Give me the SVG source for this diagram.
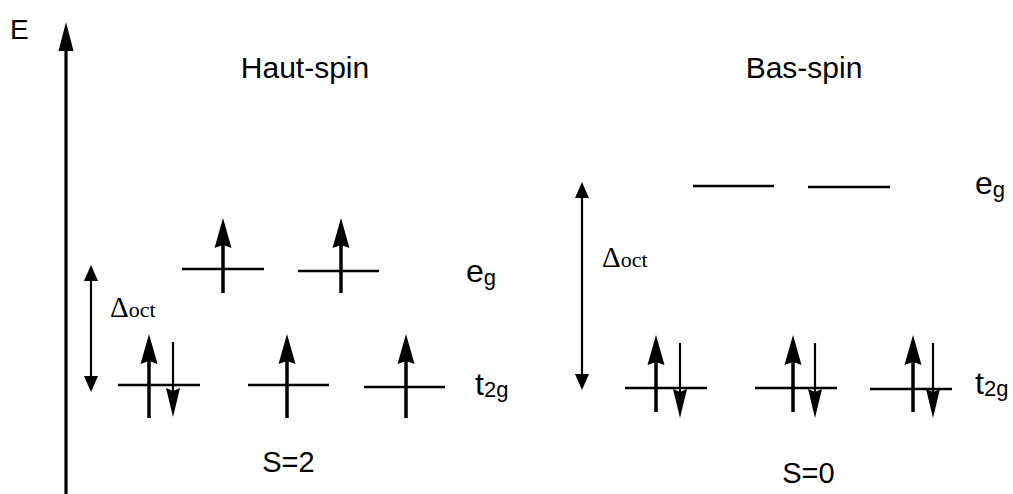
<svg xmlns="http://www.w3.org/2000/svg" xmlns:xlink="http://www.w3.org/1999/xlink" width="1013" height="494" viewBox="0 0 1013 494">
<style>
.lvl{stroke:#000;stroke-width:2.5;fill:none}
.up{stroke:#000;stroke-width:3.5;fill:none}
.dn{stroke:#000;stroke-width:2.2;fill:none}
.dl{stroke:#000;stroke-width:2.2;fill:none}
.s{font-family:"Liberation Sans",Arial,sans-serif;fill:#000}
.t{font-family:"Liberation Serif","Times New Roman",serif;fill:#000}
</style>
<defs>
<path id="hu" d="M0,0 L8.5,30 L0,27 L-8.5,30 Z" fill="#000"/>
<path id="hd" d="M0,0 L7,-29 L0,-26 L-7,-29 Z" fill="#000"/>
<path id="hsu" d="M0,0 L7,16 L-7,16 Z" fill="#000"/>
<path id="hsd" d="M0,0 L7,-16 L-7,-16 Z" fill="#000"/>
<path id="hax" d="M0,0 L7.5,29 L-7.5,29 Z" fill="#000"/>
</defs>
<rect width="1013" height="494" fill="#fff"/>

<g id="axis">
<line x1="66" y1="494" x2="66" y2="48" stroke="#000" stroke-width="3.2"/>
<use xlink:href="#hax" x="66" y="22"/>
<text class="s" x="10" y="39" font-size="28">E</text>
</g>

<g id="titles">
<text class="s" x="305" y="78" font-size="30" text-anchor="middle">Haut-spin</text>
<text class="s" x="804" y="78" font-size="30" text-anchor="middle">Bas-spin</text>
<text class="s" x="288.5" y="472" font-size="29" text-anchor="middle">S=2</text>
<text class="s" x="808.5" y="483" font-size="29" text-anchor="middle">S=0</text>
</g>

<g id="hs-levels">
<line class="lvl" x1="182" y1="269" x2="264" y2="269"/>
<line class="lvl" x1="298" y1="271" x2="379" y2="271"/>
<line class="lvl" x1="118" y1="385" x2="200" y2="385"/>
<line class="lvl" x1="248" y1="385" x2="329" y2="385"/>
<line class="lvl" x1="364" y1="387" x2="445" y2="387"/>
<text class="s" x="466" y="282" font-size="32">e<tspan font-size="22" dy="3">g</tspan></text>
<text class="s" x="475" y="395" font-size="32">t<tspan font-size="22" dy="2">2g</tspan></text>
</g>

<g id="hs-electrons">
<line class="up" x1="223" y1="293" x2="223" y2="244"/><use xlink:href="#hu" x="223" y="218"/>
<line class="up" x1="341" y1="293" x2="341" y2="244"/><use xlink:href="#hu" x="341" y="218"/>
<line class="up" x1="149" y1="418" x2="149" y2="360"/><use xlink:href="#hu" x="149" y="334"/>
<line class="dn" x1="173" y1="342" x2="173" y2="392"/><use xlink:href="#hd" x="173" y="417"/>
<line class="up" x1="287" y1="418" x2="287" y2="360"/><use xlink:href="#hu" x="287" y="334"/>
<line class="up" x1="406" y1="418" x2="406" y2="360"/><use xlink:href="#hu" x="406" y="334"/>
</g>

<g id="hs-delta">
<line class="dl" x1="91" y1="279" x2="91" y2="378"/>
<use xlink:href="#hsu" x="91" y="265"/>
<use xlink:href="#hsd" x="91" y="392"/>
<text class="t" x="110" y="317" font-size="29">Δ<tspan font-size="22">oct</tspan></text>
</g>

<g id="ls-levels">
<line class="lvl" x1="693" y1="186" x2="774" y2="186"/>
<line class="lvl" x1="808" y1="187" x2="890" y2="187"/>
<line class="lvl" x1="625" y1="388" x2="707" y2="388"/>
<line class="lvl" x1="755" y1="388" x2="837" y2="388"/>
<line class="lvl" x1="870" y1="389" x2="952" y2="389"/>
<text class="s" x="975" y="194" font-size="32">e<tspan font-size="22" dy="3">g</tspan></text>
<text class="s" x="975" y="394" font-size="32">t<tspan font-size="22" dy="2">2g</tspan></text>
</g>

<g id="ls-electrons">
<line class="up" x1="656" y1="412" x2="656" y2="361"/><use xlink:href="#hu" x="656" y="335"/>
<line class="dn" x1="680" y1="343" x2="680" y2="393"/><use xlink:href="#hd" x="680" y="418"/>
<line class="up" x1="793" y1="412" x2="793" y2="361"/><use xlink:href="#hu" x="793" y="335"/>
<line class="dn" x1="815" y1="343" x2="815" y2="393"/><use xlink:href="#hd" x="815" y="418"/>
<line class="up" x1="913" y1="412" x2="913" y2="361"/><use xlink:href="#hu" x="913" y="335"/>
<line class="dn" x1="933" y1="343" x2="933" y2="393"/><use xlink:href="#hd" x="933" y="418"/>
</g>

<g id="ls-delta">
<line class="dl" x1="582" y1="196" x2="582" y2="376"/>
<use xlink:href="#hsu" x="582" y="182"/>
<use xlink:href="#hsd" x="582" y="390"/>
<text class="t" x="602" y="267" font-size="29">Δ<tspan font-size="22">oct</tspan></text>
</g>
</svg>
